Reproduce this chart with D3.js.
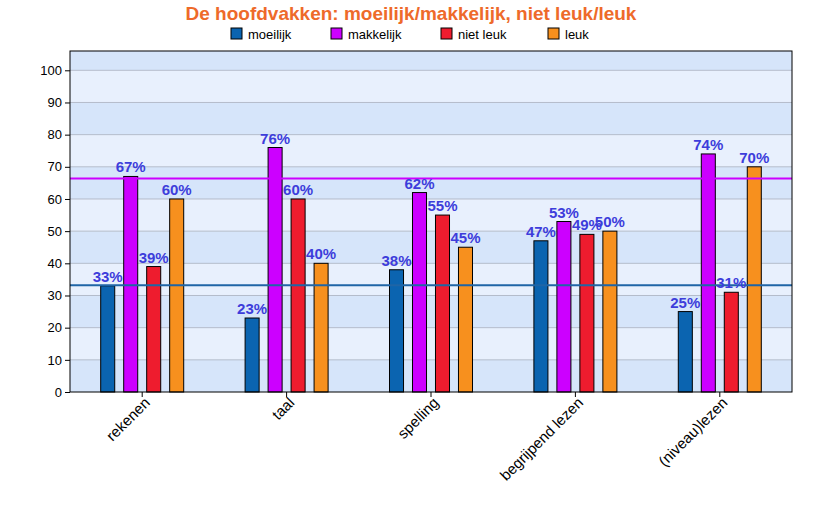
<!DOCTYPE html>
<html><head><meta charset="utf-8">
<script src="https://cdn.jsdelivr.net/npm/d3@7"></script>
<style>body{margin:0;background:#fff;} text{font-family:"Liberation Sans",Arial,sans-serif;}</style>
</head><body><svg id="c" width="822" height="522"></svg>
<script>
const categories = ["rekenen","taal","spelling","begrijpend lezen","(niveau)lezen"];
const seriesNames = ["moeilijk","makkelijk","niet leuk","leuk"];
const moeilijk = [33,23,38,47,25];
const makkelijk = [67,76,62,53,74];
const nietLeuk = [39,60,55,49,31];
const leuk = [60,40,45,50,70];
const avgMoeilijk = 33.2;
const avgMakkelijk = 66.4;
const yTicks = [0,10,20,30,40,50,60,70,80,90,100];
const colors = ["#0b64b0","#cc00ff","#ee1c2e","#f7901e"];
const seriesValues = [moeilijk, makkelijk, nietLeuk, leuk];

const svg = d3.select("#c");
const L=70, R=792, T=51, B=392;
const x = d3.scaleBand().domain(categories).range([L,R]).padding(0);
const y = d3.scaleLinear().domain([0,106]).range([B,T]);
const inner = d3.scaleBand().domain(seriesNames).range([-41.5,41.5]).paddingInner(0.39).paddingOuter(0);

// background bands
const bandEdges = yTicks.concat([106]);
for (let i=0;i<bandEdges.length-1;i++){
  svg.append("rect").attr("x",L).attr("width",R-L)
    .attr("y",y(bandEdges[i+1])).attr("height",y(bandEdges[i])-y(bandEdges[i+1]))
    .attr("fill", i%2===0 ? "#d6e5fa" : "#e8f0fd");
}
// grid
svg.append("g").selectAll("line").data(yTicks.slice(1)).join("line")
  .attr("x1",L).attr("x2",R).attr("y1",d=>y(d)).attr("y2",d=>y(d))
  .attr("stroke","#b4bccb").attr("stroke-width",1);

// bars
categories.forEach((c,ci)=>{
  seriesNames.forEach((s,si)=>{
    const v = seriesValues[si][ci];
    const cx = x(c)+x.bandwidth()/2;
    svg.append("rect").attr("x",cx+inner(s)).attr("width",inner.bandwidth())
      .attr("y",y(v)).attr("height",y(0)-y(v))
      .attr("fill",colors[si]).attr("stroke","#000").attr("stroke-width",1);
  });
});

// average lines
svg.append("line").attr("x1",L).attr("x2",R).attr("y1",y(avgMakkelijk)).attr("y2",y(avgMakkelijk))
  .attr("stroke","#cc00ff").attr("stroke-width",2);
svg.append("line").attr("x1",L).attr("x2",R).attr("y1",y(avgMoeilijk)).attr("y2",y(avgMoeilijk))
  .attr("stroke","#1f65a6").attr("stroke-width",2);

// labels
categories.forEach((c,ci)=>{
  seriesNames.forEach((s,si)=>{
    const v = seriesValues[si][ci];
    const cx = x(c)+x.bandwidth()/2 + inner(s) + inner.bandwidth()/2;
    svg.append("text").attr("x",cx).attr("y",y(v)-4).attr("text-anchor","middle")
      .attr("font-size","15px").attr("font-weight","bold").attr("fill","#3d3ddb")
      .text(v+"%");
  });
});

// border
svg.append("rect").attr("x",L).attr("y",T).attr("width",R-L).attr("height",B-T)
  .attr("fill","none").attr("stroke","#000").attr("stroke-width",1);

// y axis
const ya = svg.append("g").attr("transform",`translate(${L},0)`)
  .call(d3.axisLeft(y).tickValues(yTicks).tickSize(5).tickPadding(3));
ya.select(".domain").remove();
ya.selectAll("text").attr("font-size","13px").attr("fill","#000").style("font-family","Liberation Sans, Arial, sans-serif");
ya.selectAll("line").attr("stroke","#000");

// x axis
const xa = svg.append("g").attr("transform",`translate(0,${B})`)
  .call(d3.axisBottom(x).tickSize(5).tickPadding(4));
xa.select(".domain").remove();
xa.selectAll("line").attr("stroke","#000");
xa.selectAll("text").attr("font-size","15px").attr("fill","#000")
  .style("font-family","Liberation Sans, Arial, sans-serif")
  .attr("text-anchor","end").attr("dy","0.35em")
  .attr("transform","translate(5,8) rotate(-45)").attr("y",0).attr("x",0);

// title
svg.append("text").attr("x",411).attr("y",19.5).attr("text-anchor","middle")
  .attr("font-size","19px").attr("font-weight","bold").attr("fill","#ee6a2a")
  .text("De hoofdvakken: moeilijk/makkelijk, niet leuk/leuk");

// legend
const legX = [231,331,441,548];
seriesNames.forEach((s,i)=>{
  svg.append("rect").attr("x",legX[i]).attr("y",28).attr("width",11).attr("height",11)
    .attr("fill",colors[i]).attr("stroke","#000").attr("stroke-width",1);
  svg.append("text").attr("x",legX[i]+17).attr("y",38.5).attr("font-size","13px").attr("fill","#000").text(s);
});
</script></body></html>
